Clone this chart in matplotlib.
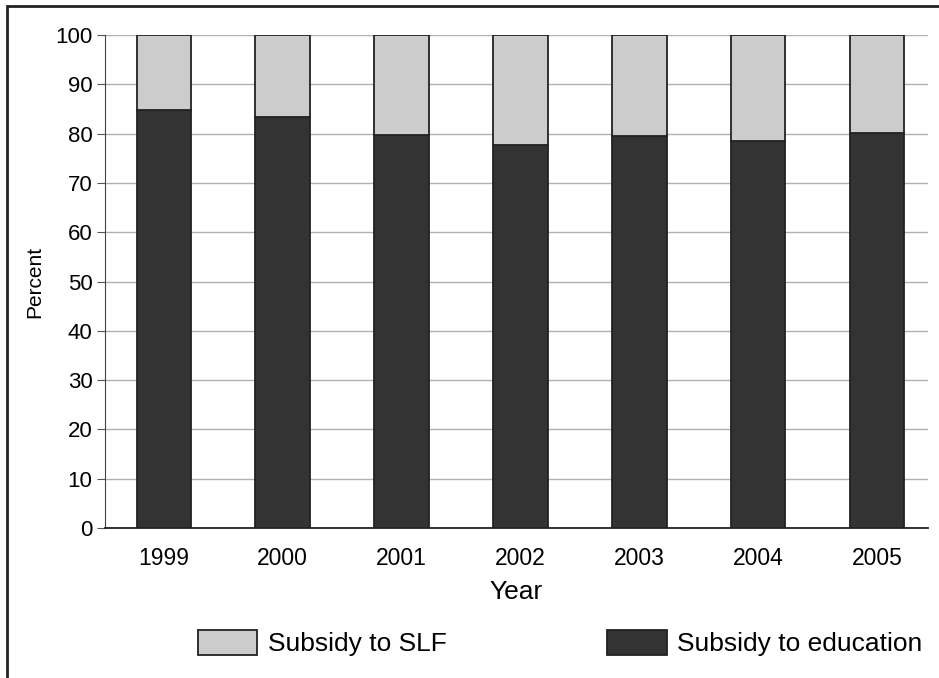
import matplotlib
matplotlib.use("Agg")
import matplotlib.pyplot as plt
from matplotlib.patches import Rectangle

plt.rcParams['font.family'] = ['Liberation Sans', 'DejaVu Sans']

years = ["1999", "2000", "2001", "2002", "2003", "2004", "2005"]
education = [84.7, 83.3, 79.7, 77.7, 79.5, 78.6, 80.1]
slf = [100 - v for v in education]

fig = plt.figure(figsize=(9.39, 6.78), dpi=100)
ax = fig.add_axes([105 / 939, 1 - 528 / 678, (928 - 105) / 939, (528 - 35) / 678])

x = range(len(years))
ax.bar(x, education, width=0.46, color="#333333", edgecolor="#222222", linewidth=1.3,
       label="Subsidy to education", zorder=3)
ax.bar(x, slf, bottom=education, width=0.46, color="#cccccc", edgecolor="#222222",
       linewidth=1.3, label="Subsidy to SLF", zorder=3)

ax.set_xlim(-0.496, 6.43)
ax.set_ylim(0, 100)
ax.set_yticks(range(0, 101, 10))
ax.set_xticks(list(x))
ax.set_xticklabels(years)
ax.yaxis.grid(True, color="#b0b0b0", linewidth=1.0, zorder=0)
ax.tick_params(axis="y", length=6, color="#555555", labelsize=16, pad=3)
ax.tick_params(axis="x", length=0, labelsize=16.5, pad=14)
for s in ("top", "right"):
    ax.spines[s].set_visible(False)
ax.spines["left"].set_color("#444444")
ax.spines["bottom"].set_color("#222222")
ax.spines["bottom"].set_linewidth(1.3)
ax.set_ylabel("Percent", fontsize=15, labelpad=8)
ax.set_xlabel("Year", fontsize=19, labelpad=7)

h, l = ax.get_legend_handles_labels()
fig.legend(h[::-1], l[::-1], loc="center", bbox_to_anchor=(560 / 939, 1 - 643 / 678),
           ncol=2, frameon=False, fontsize=19, handlelength=2.27, handleheight=1.1,
           handletextpad=0.38, columnspacing=6.1)

fig.patches.append(Rectangle((7 / 939, -0.1), 1.2, 1 - 6 / 678 + 0.1, transform=fig.transFigure,
                             fill=False, edgecolor="#222222", linewidth=2))

fig.savefig("out.png", dpi=100)
